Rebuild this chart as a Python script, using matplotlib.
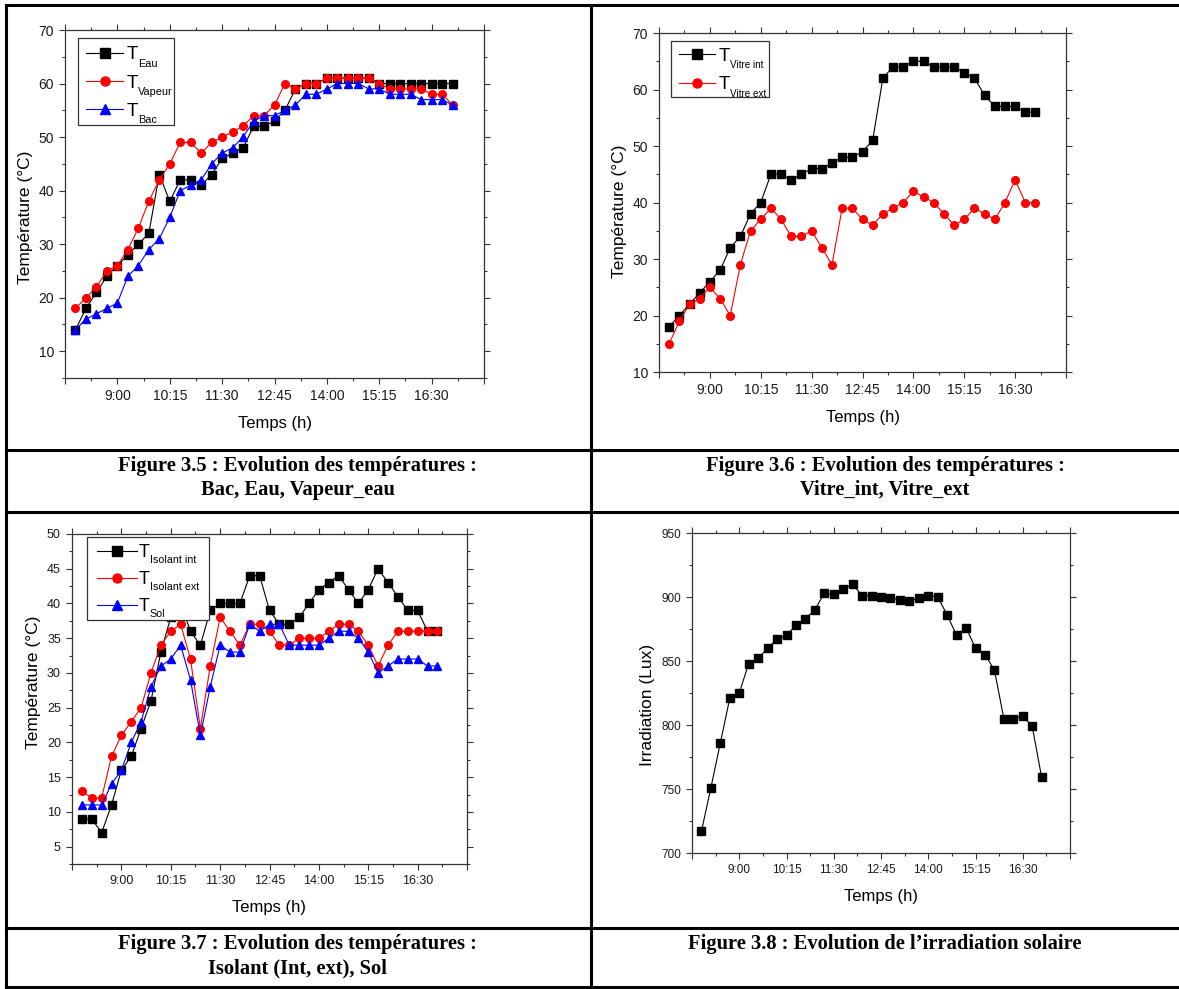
import numpy as np
import matplotlib
matplotlib.use('Agg')
import matplotlib.pyplot as plt
from matplotlib.lines import Line2D
from matplotlib.patches import Rectangle
from matplotlib.ticker import MultipleLocator, FixedLocator

plt.rcParams['font.family'] = ['Liberation Sans', 'DejaVu Sans']

W, H = 1179, 989

TIMES = ['8:00', '8:15', '8:30', '8:45', '9:00', '9:15', '9:30', '9:45',
         '10:00', '10:15', '10:30', '10:45', '11:00', '11:15', '11:30',
         '11:45', '12:00', '12:15', '12:30', '12:45', '13:00', '13:15',
         '13:30', '13:45', '14:00', '14:15', '14:30', '14:45', '15:00',
         '15:15', '15:30', '15:45', '16:00', '16:15', '16:30', '16:45',
         '17:00']
TICK_TIMES = ['7:45', '9:00', '10:15', '11:30', '12:45', '14:00', '15:15',
              '16:30', '17:45']

# fig 3.5
T_EAU = [14, 18, 21, 24, 26, 28, 30, 32, 43, 38, 42, 42, 41, 43, 46, 47, 48,
         52, 52, 53, 55, 59, 60, 60, 61, 61, 61, 61, 61, 60, 60, 60, 60, 60,
         60, 60, 60]
T_VAPEUR = [18, 20, 22, 25, 26, 29, 33, 38, 42, 45, 49, 49, 47, 49, 50, 51,
            52, 54, 54, 56, 60, 59, 60, 60, 61, 61, 61, 61, 61, 60, 59, 59,
            59, 59, 58, 58, 56]
T_BAC = [14, 16, 17, 18, 19, 24, 26, 29, 31, 35, 40, 41, 42, 45, 47, 48, 50,
         53, 54, 54, 55, 56, 58, 58, 59, 60, 60, 60, 59, 59, 58, 58, 58, 57,
         57, 57, 56]
# fig 3.6
T_VITRE_INT = [18, 20, 22, 24, 26, 28, 32, 34, 38, 40, 45, 45, 44, 45, 46,
               46, 47, 48, 48, 49, 51, 62, 64, 64, 65, 65, 64, 64, 64, 63,
               62, 59, 57, 57, 57, 56, 56]
T_VITRE_EXT = [15, 19, 22, 23, 25, 23, 20, 29, 35, 37, 39, 37, 34, 34, 35,
               32, 29, 39, 39, 37, 36, 38, 39, 40, 42, 41, 40, 38, 36, 37,
               39, 38, 37, 40, 44, 40, 40]
# fig 3.7
T_ISO_INT = [9, 9, 7, 11, 16, 18, 22, 26, 33, 38, 40, 36, 34, 39, 40, 40, 40,
             44, 44, 39, 37, 37, 38, 40, 42, 43, 44, 42, 40, 42, 45, 43, 41,
             39, 39, 36, 36]
T_ISO_EXT = [13, 12, 12, 18, 21, 23, 25, 30, 34, 36, 37, 32, 22, 31, 38, 36,
             34, 37, 37, 36, 34, 34, 35, 35, 35, 36, 37, 37, 36, 34, 31, 34,
             36, 36, 36, 36, 36]
T_SOL = [11, 11, 11, 14, 16, 20, 23, 28, 31, 32, 34, 29, 21, 28, 34, 33, 33,
         37, 36, 37, 37, 34, 34, 34, 34, 35, 36, 36, 35, 33, 30, 31, 32, 32,
         32, 31, 31]
# fig 3.8
IRRAD = [717, 751, 786, 821, 825, 848, 852, 860, 867, 870, 878, 883, 890,
         903, 902, 906, 910, 901, 901, 900, 899, 898, 897, 899, 901, 900,
         886, 870, 876, 860, 855, 843, 805, 805, 807, 799, 759]

CAPTIONS = [('Figure 3.5 : Evolution des températures :', 'Bac, Eau, Vapeur_eau'),
            ('Figure 3.6 : Evolution des températures :', 'Vitre_int, Vitre_ext'),
            ('Figure 3.7 : Evolution des températures :', 'Isolant (Int, ext), Sol'),
            ('Figure 3.8 : Evolution de l\u2019irradiation solaire', '')]


def hours(s):
  h, m = s.split(':')
  return int(h) + int(m) / 60


x = np.array([hours(s) for s in TIMES])
xt = np.array([hours(s) for s in TICK_TIMES])


def box(l, t, r, b):
  return [l / W, 1 - b / H, (r - l) / W, (b - t) / H]


def style(ax, ylim, ymaj, ymin, fs, ylab, ly):
  ax.set_xlim(xt[0], xt[-1])
  ax.set_ylim(*ylim)
  ax.xaxis.set_major_locator(FixedLocator(xt))
  ax.xaxis.set_minor_locator(FixedLocator((xt[:-1] + xt[1:]) / 2))
  ax.set_xticklabels([''] + TICK_TIMES[1:-1] + [''])
  ax.yaxis.set_major_locator(MultipleLocator(ymaj))
  ax.yaxis.set_minor_locator(MultipleLocator(ymin))
  for s in ax.spines.values():
    s.set_color('#333333'); s.set_linewidth(0.9)
  ax.tick_params(which='both', direction='out', top=True, right=True,
                 color='#333333', labelsize=fs, labelcolor='#1a1a1a')
  ax.tick_params(which='major', length=4.5, width=0.8)
  ax.tick_params(which='minor', length=2.5, width=0.8)
  ax.set_xlabel('Temps (h)', fontsize=12, labelpad=9)
  ax.set_ylabel(ylab, fontsize=12.5)
  ax.yaxis.label.set_y(ly)


def plot(ax, y, color, marker):
  ax.plot(x, y, color=color, marker=marker, ms=5.5, lw=0.8, clip_on=False)


fig = plt.figure(figsize=(W / 100, H / 100), dpi=100)
renderer = fig.canvas.get_renderer()


def legend(entries, frame, hx, rows, tx, fs, sfs, sub_dy=14):
  # Origin-style legend: big "T" with a small subscript
  l, t, r, b = frame
  fig.add_artist(Rectangle((l / W, 1 - b / H), (r - l) / W, (b - t) / H,
                           transform=fig.transFigure, fc='white',
                           ec='#333333', lw=0.9, zorder=5))
  for (color, marker, sub), yy in zip(entries, rows):
    fig.add_artist(Line2D([hx[0] / W, hx[1] / W], [1 - yy / H] * 2,
                          color=color, lw=0.8, transform=fig.transFigure,
                          zorder=6))
    fig.add_artist(Line2D([(hx[0] + hx[1]) / 2 / W], [1 - yy / H],
                          color=color, marker=marker, ms=6.5, ls='none',
                          transform=fig.transFigure, zorder=7))
    T = fig.text(tx / W, 1 - (yy + 6.5) / H, 'T', fontsize=fs, ha='left',
                 va='baseline', zorder=8)
    bb = T.get_window_extent(renderer)
    fig.text(bb.x1 / W, 1 - (yy + sub_dy) / H, sub, fontsize=sfs, ha='left',
             va='baseline', zorder=8)


# fig 3.5
ax = fig.add_axes(box(65, 30, 484, 378))
plot(ax, T_EAU, 'black', 's')
plot(ax, T_VAPEUR, 'red', 'o')
plot(ax, T_BAC, 'blue', '^')
style(ax, (5, 70), 10, 5, 10, 'Température (°C)', 0.463)
legend([('black', 's', 'Eau'), ('red', 'o', 'Vapeur'), ('blue', '^', 'Bac')],
       (78, 38, 174, 125), (86, 123), (52.7, 81, 109.3), 127, 13.5, 7.8)

# fig 3.6
ax = fig.add_axes(box(659, 33, 1066, 372))
plot(ax, T_VITRE_INT, 'black', 's')
plot(ax, T_VITRE_EXT, 'red', 'o')
style(ax, (10, 70), 10, 5, 10, 'Température (°C)', 0.473)
legend([('black', 's', 'Vitre int'), ('red', 'o', 'Vitre ext')],
       (671, 41, 769, 97), (679, 715), (54.3, 82.7), 719, 13.5, 7.1)

# fig 3.7
ax = fig.add_axes(box(72, 534, 467, 864))
plot(ax, T_ISO_INT, 'black', 's')
plot(ax, T_ISO_EXT, 'red', 'o')
plot(ax, T_SOL, 'blue', '^')
style(ax, (2.5, 50), 5, 2.5, 9, 'Température (°C)', 0.55)
legend([('black', 's', 'Isolant int'), ('red', 'o', 'Isolant ext'),
        ('blue', '^', 'Sol')],
       (87, 537, 209, 620), (97, 137), (550.5, 577.5, 604.5), 139, 13, 7.7,
       sub_dy=12.5)

# fig 3.8
ax = fig.add_axes(box(692, 533, 1070, 853))
plot(ax, IRRAD, 'black', 's')
style(ax, (700, 950), 50, 25, 8.5, 'Irradiation (Lux)', 0.464)

# table frame
def hline(y, x0=6, x1=W):
  fig.add_artist(Line2D([x0 / W, x1 / W], [1 - y / H] * 2, color='black', lw=2.2))

def vline(xp, y0=5, y1=987):
  fig.add_artist(Line2D([xp / W] * 2, [1 - y0 / H, 1 - y1 / H], color='black', lw=2.2))

for yy in (5, 450, 512, 928, 987):
  hline(yy)
vline(6); vline(591)

cx = [298, 885]
for i, (l1, l2) in enumerate(CAPTIONS):
  y1 = 466 if i < 2 else 944
  fig.text(cx[i % 2] / W, 1 - y1 / H, l1, ha='center', va='center',
           fontsize=14.8, fontweight='bold', family='Liberation Serif')
  if l2:
    fig.text(cx[i % 2] / W, 1 - (y1 + 24) / H, l2, ha='center', va='center',
             fontsize=14.8, fontweight='bold', family='Liberation Serif')

fig.savefig('out.png', dpi=100)
